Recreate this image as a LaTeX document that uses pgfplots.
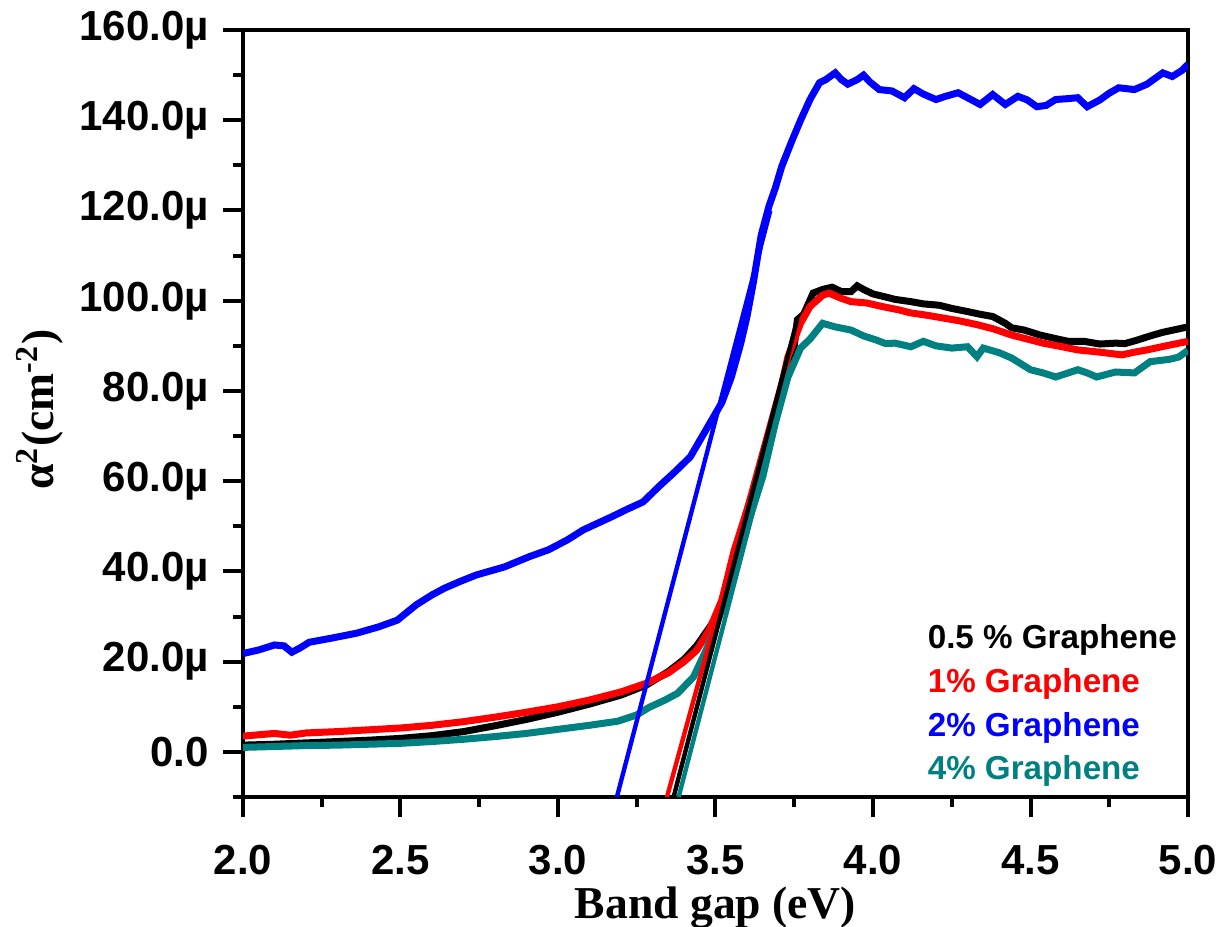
\documentclass[border=0pt]{standalone}
\usepackage{fontspec}
\setmainfont{Liberation Sans}
\newfontfamily\timesfont{Liberation Serif}
\usepackage{pgfplots}
\pgfplotsset{compat=1.18}

\definecolor{tealc}{RGB}{0,128,128}

\begin{document}
\begin{tikzpicture}
% frame of the whole picture, axis box lower left at the origin
\path[use as bounding box] (-60.75pt,-32.25pt) rectangle (246.75pt,199.25pt);
\begin{axis}[
  at={(0,0)}, anchor=south west,
  scale only axis,
  width=236.25pt, height=191.75pt,
  xmin=2, xmax=5,
  ymin=-10, ymax=160,
  xtick={2,2.5,3,3.5,4,4.5,5},
  xticklabels={2.0,2.5,3.0,3.5,4.0,4.5,5.0},
  minor xtick={2.25,2.75,3.25,3.75,4.25,4.75},
  ytick={0,20,40,60,80,100,120,140,160},
  yticklabels={0.0,20.0µ,40.0µ,60.0µ,80.0µ,100.0µ,120.0µ,140.0µ,160.0µ},
  minor ytick={-10,10,30,50,70,90,110,130,150},
  tick pos=left,
  tick align=outside,
  major tick length=5pt,
  minor tick length=2.5pt,
  every tick/.style={black, line width=1pt},
  axis line style={line width=1.2pt},
  ticklabel style={font=\bfseries\fontsize{10.5}{12}\selectfont},
  xticklabel style={yshift=-3.5pt},
  xlabel={\timesfont\bfseries Band gap (eV)},
  xlabel style={font=\fontsize{11.4}{13}\selectfont, at={(axis description cs:0.5,-0.158)}, anchor=base},
  ylabel={\timesfont\bfseries α\textsuperscript{2}(cm\textsuperscript{-2})},
  ylabel style={font=\fontsize{11.4}{13}\selectfont, at={(axis description cs:-0.215,0.505)}, anchor=center, rotate=0},
  legend cell align=left,
  legend image code/.code={},
  legend style={draw=none, fill=none,
    at={(axis description cs:0.709,0.24)}, anchor=north west,
    font=\bfseries\fontsize{8.3}{10}\selectfont,
    nodes={inner sep=0.5pt, text height=6.3pt, text depth=1.7pt},
    row sep=1.9pt},
]
% 0.5 % Graphene
\addplot[black, line width=1.75pt] coordinates {
(2.00,1.5) (2.10,1.7) (2.20,2.0) (2.30,2.3) (2.40,2.6) (2.50,3.0) (2.60,3.6)
(2.70,4.5) (2.80,5.8) (2.90,7.2) (3.00,8.8) (3.10,10.6) (3.20,12.6) (3.28,14.8)
(3.35,17.8) (3.40,20.5) (3.44,23.5) (3.47,26.5) (3.50,29.5) (3.53,35.0) (3.56,42.0)
(3.60,51.0) (3.64,60.5) (3.68,71.0) (3.72,82.0) (3.75,90.0) (3.76,95.8) (3.78,97.0)
(3.81,101.7) (3.84,102.5) (3.87,103.0) (3.90,102.0) (3.93,102.0) (3.95,103.3)
(3.97,102.5) (4.00,101.5) (4.03,101.0) (4.07,100.3) (4.12,99.8) (4.16,99.3)
(4.21,99.0) (4.25,98.3) (4.30,97.6) (4.34,97.0) (4.38,96.5) (4.42,95.0) (4.44,94.0)
(4.48,93.5) (4.53,92.4) (4.58,91.6) (4.62,91.0) (4.67,91.0) (4.72,90.4) (4.77,90.6)
(4.80,90.5) (4.84,91.3) (4.88,92.2) (4.92,93.0) (4.96,93.6) (5.00,94.2)
};
\addlegendentry{\textcolor{black}{0.5 \% Graphene}}
% 1% Graphene
\addplot[red, line width=1.75pt] coordinates {
(2.00,3.5) (2.05,3.8) (2.10,4.1) (2.15,3.7) (2.20,4.2) (2.30,4.5) (2.40,4.9)
(2.50,5.3) (2.60,5.9) (2.70,6.7) (2.80,7.7) (2.90,8.8) (3.00,10.0) (3.10,11.5)
(3.20,13.3) (3.28,15.2) (3.35,17.5) (3.40,20.0) (3.44,22.5) (3.48,27.0) (3.52,33.6)
(3.56,44.8) (3.60,53.6) (3.65,64.0) (3.69,75.0) (3.73,87.6) (3.77,95.0) (3.80,98.7)
(3.84,101.2) (3.86,101.7) (3.90,100.5) (3.93,99.8) (3.98,99.5) (4.03,98.7)
(4.08,98.0) (4.12,97.3) (4.17,96.8) (4.22,96.2) (4.27,95.6) (4.33,94.7) (4.38,93.8)
(4.44,92.4) (4.49,91.5) (4.54,90.6) (4.60,89.8) (4.65,89.1) (4.72,88.6) (4.79,88.0)
(4.83,88.6) (4.87,89.1) (4.93,90.0) (5.00,91.0)
};
\addlegendentry{\textcolor{red}{1\% Graphene}}
% 2% Graphene
\addplot[blue, line width=1.75pt] coordinates {
(2.00,21.8) (2.05,22.6) (2.10,23.7) (2.13,23.5) (2.155,22.1) (2.18,23.0) (2.21,24.3)
(2.28,25.2) (2.36,26.3) (2.43,27.7) (2.49,29.2) (2.55,32.6) (2.60,34.8) (2.64,36.3)
(2.69,37.8) (2.74,39.2) (2.83,41.0) (2.91,43.3) (2.97,44.8) (3.03,47.0) (3.08,49.2)
(3.17,52.1) (3.22,53.8) (3.27,55.4) (3.32,58.8) (3.37,62.0) (3.42,65.4) (3.47,71.4)
(3.52,77.4) (3.55,83.0) (3.58,90.5) (3.60,96.5) (3.62,104.0) (3.645,114.5) (3.67,121.0)
(3.69,125.0) (3.71,129.7) (3.74,135.0) (3.77,140.0) (3.80,144.6) (3.83,148.3)
(3.85,149.0) (3.88,150.5) (3.90,149.0) (3.92,148.0) (3.95,149.0) (3.97,150.0)
(3.99,148.5) (4.02,146.8) (4.06,146.5) (4.10,145.0) (4.13,147.0) (4.16,145.8)
(4.20,144.6) (4.23,145.3) (4.27,146.1) (4.30,145.0) (4.34,143.5) (4.38,145.7)
(4.42,143.5) (4.46,145.3) (4.49,144.5) (4.52,143.0) (4.55,143.3) (4.58,144.6)
(4.62,144.8) (4.65,145.0) (4.68,143.0) (4.72,144.5) (4.75,146.0) (4.78,147.2)
(4.83,146.8) (4.87,148.0) (4.92,150.5) (4.95,149.7) (4.98,151.0) (5.00,152.4)
};
\addlegendentry{\textcolor{blue}{2\% Graphene}}
% 4% Graphene
\addplot[tealc, line width=1.75pt] coordinates {
(2.00,1.0) (2.10,1.2) (2.20,1.4) (2.30,1.5) (2.40,1.7) (2.50,1.9) (2.60,2.3)
(2.70,2.8) (2.80,3.4) (2.90,4.1) (3.00,5.0) (3.10,5.9) (3.19,6.8) (3.25,8.2)
(3.29,9.9) (3.34,11.5) (3.38,13.0) (3.43,16.6) (3.47,22.5) (3.52,31.4) (3.56,40.3)
(3.60,49.9) (3.65,61.0) (3.69,72.9) (3.73,83.1) (3.77,89.5) (3.80,91.5) (3.84,95.0)
(3.88,94.2) (3.93,93.5) (3.97,92.2) (4.01,91.3) (4.04,90.5) (4.07,90.6) (4.12,89.8)
(4.16,91.0) (4.20,90.0) (4.25,89.5) (4.30,89.8) (4.33,87.6) (4.35,89.5) (4.40,88.5)
(4.44,87.3) (4.47,86.0) (4.50,84.7) (4.54,84.0) (4.58,83.1) (4.62,84.0) (4.65,84.7)
(4.68,84.0) (4.71,83.1) (4.77,84.2) (4.83,84.0) (4.88,86.5) (4.94,87.0) (4.97,87.5)
(5.00,89.0)
};
\addlegendentry{\textcolor{tealc}{4\% Graphene}}
% linear fits for the band gap
\addplot[blue, line width=1.1pt, forget plot] coordinates {(3.187,-10) (3.674,120)};
\addplot[red, line width=1.1pt, forget plot] coordinates {(3.346,-10) (3.755,94)};
\addplot[black, line width=1.1pt, forget plot] coordinates {(3.367,-10) (3.76,96)};
\addplot[tealc, line width=1.1pt, forget plot] coordinates {(3.383,-10) (3.73,83)};
\end{axis}
\end{tikzpicture}
\end{document}
